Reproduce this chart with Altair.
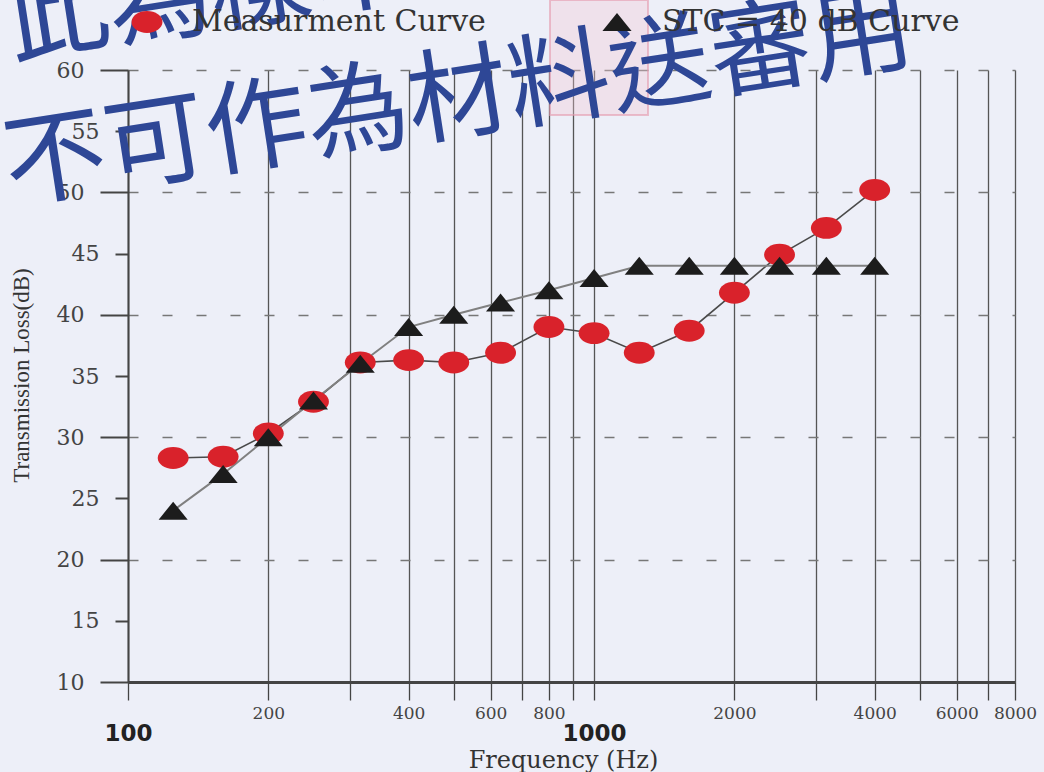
import altair as alt
import pandas as pd

# ---- data ----
freqs = [125, 160, 200, 250, 315, 400, 500, 630, 800, 1000, 1250, 1600, 2000, 2500, 3150, 4000]
measured = [28.3, 28.4, 30.3, 32.9, 36.1, 36.3, 36.1, 36.9, 39.0, 38.5, 36.9, 38.7, 41.8, 44.9, 47.1, 50.2]
stc_curve = [24, 27, 30, 33, 36, 39, 40, 41, 42, 43, 44, 44, 44, 44, 44, 44]
series_names = ["Measurment Curve", "STC = 40 dB Curve"]

x_grid_values = [100, 200, 300, 400, 500, 600, 700, 800, 900,
                 1000, 2000, 3000, 4000, 5000, 6000, 7000, 8000]
x_small_labels = [200, 400, 600, 800, 2000, 4000, 6000, 8000]
x_big_labels = [100, 1000]
y_major = [10, 20, 30, 40, 50, 60]
y_minor = [15, 25, 35, 45, 55]
watermark_lines = ["此為樣本", "不可作為材料送審用"]

df = pd.DataFrame({
    "freq": freqs + freqs,
    "tl": measured + stc_curve,
    "series": [series_names[0]] * len(freqs) + [series_names[1]] * len(freqs),
})

W, H = 887, 612
xscale = alt.Scale(type="log", domain=[100, 8000], nice=False)
yscale = alt.Scale(domain=[10, 60], nice=False, zero=False)

ELLIPSE = "M-1.03,0A1.03,0.73,0,1,1,1.03,0A1.03,0.73,0,1,1,-1.03,0Z"
TRIANGLE = "M-0.97,0.6L0.97,0.6L0,-0.6Z"

# x axis: ticks + vertical grid
ax_grid = alt.Axis(values=x_grid_values, orient="bottom", labels=False, ticks=True,
                   tickSize=18, tickColor="#444", tickWidth=1.3,
                   grid=True, gridColor="#555", gridWidth=1.3,
                   domain=True, domainColor="#444", domainWidth=3, title=None)
# x axis: small serif labels
ax_small = alt.Axis(values=x_small_labels, orient="bottom", ticks=False, tickSize=0,
                    grid=False, domain=False, labelPadding=23,
                    labelFont="DejaVu Serif", labelFontSize=17, labelColor="#444",
                    labelFlush=False, labelOverlap=False, format="d", title=None)
# x axis: big bold labels + title
ax_big = alt.Axis(values=x_big_labels, orient="bottom", ticks=False, tickSize=0,
                  grid=False, domain=False, labelPadding=40,
                  labelFont="DejaVu Sans", labelFontSize=23, labelFontWeight="bold",
                  labelColor="#222", labelFlush=False, labelOverlap=False, format="d",
                  title="Frequency (Hz)", titleFont="DejaVu Serif", titleFontSize=24,
                  titleFontWeight="normal", titleColor="#333",
                  titleX=435, titleY=78, titleBaseline="middle", titleAnchor="start",
                  titleAlign="center")

# y axis: major ticks, dashed grid, labels, title
ay_major = alt.Axis(values=y_major, orient="left", tickSize=28, tickColor="#444", tickWidth=2,
                    grid=True, gridDash=[10, 24], gridColor="#777", gridWidth=1.5,
                    domain=True, domainColor="#444", domainWidth=2,
                    labelFont="DejaVu Serif", labelFontSize=22, labelColor="#444",
                    labelPadding=16, labelFlush=False, labelOverlap=False,
                    title="Transmission Loss(dB)", titleFont="Liberation Serif",
                    titleFontSize=23, titleFontWeight="normal", titleColor="#333",
                    titleX=-107, titleY=305, titleAngle=270, titleBaseline="middle",
                    titleAlign="center", titleAnchor="start")
ay_minor = alt.Axis(values=y_minor, orient="left", tickSize=13, tickColor="#444", tickWidth=2,
                    grid=False, domain=False,
                    labelFont="DejaVu Serif", labelFontSize=22, labelColor="#444",
                    labelPadding=16, labelFlush=False, labelOverlap=False, title=None)

base = alt.Chart(df)

line_meas = base.transform_filter(alt.datum.series == series_names[0]).mark_line(
    color="#4a4a4a", strokeWidth=1.6
).encode(
    x=alt.X("freq:Q", scale=xscale, axis=ax_grid),
    y=alt.Y("tl:Q", scale=yscale, axis=ay_major),
)

line_stc = base.transform_filter(alt.datum.series == series_names[1]).mark_line(
    color="#808080", strokeWidth=2
).encode(
    x=alt.X("freq:Q", scale=xscale, axis=ax_small),
    y=alt.Y("tl:Q", scale=yscale, axis=ay_minor),
)

legend_cfg = dict(title=None, orient="none", legendX=4, legendY=-63,
                  direction="horizontal", symbolSize=900,
                  labelFont="DejaVu Serif", labelFontSize=30,
                  labelColor="#333", labelOffset=30,
                  labelLimit=600, columnPadding=116,
                  symbolStrokeWidth=0, symbolOpacity=1)

points = base.mark_point(filled=True, opacity=1, size=900, strokeWidth=0).encode(
    x=alt.X("freq:Q", scale=xscale, axis=ax_big),
    y=alt.Y("tl:Q", scale=yscale, axis=None),
    color=alt.Color("series:N",
                    scale=alt.Scale(domain=series_names, range=["#d9222b", "#1c1c1c"]),
                    legend=alt.Legend(**legend_cfg)),
    shape=alt.Shape("series:N",
                    scale=alt.Scale(domain=series_names, range=[ELLIPSE, TRIANGLE]),
                    legend=alt.Legend(**legend_cfg)),
)

# faint red stamp and blue watermark overlay
stamp = alt.Chart(pd.DataFrame({"s": ["stamp"]})).mark_rect(
    fill="#f3c9d3", fillOpacity=0.35, stroke="#e59aae", strokeOpacity=0.6, strokeWidth=2
).encode(x=alt.value(422), x2=alt.value(520), y=alt.value(-70), y2=alt.value(45))

wm_df1 = pd.DataFrame({"t": [watermark_lines[0]]})
wm_df2 = pd.DataFrame({"t": [watermark_lines[1]]})
wm_style = dict(font="Noto Sans CJK TC", fontSize=102, color="#2e4796",
                align="left", baseline="middle", angle=351.2)
wm1 = alt.Chart(wm_df1).mark_text(**wm_style).encode(
    text="t:N", x=alt.value(-120), y=alt.value(-44))
wm2 = alt.Chart(wm_df2).mark_text(**wm_style).encode(
    text="t:N", x=alt.value(-123), y=alt.value(100))

chart = alt.layer(line_meas, line_stc, points, stamp, wm1, wm2).resolve_axis(
    x="independent", y="independent"
).properties(
    width=W, height=H,
    padding={"left": 128, "top": 70, "right": 29, "bottom": 90},
    autosize=alt.AutoSizeParams(type="none"),
    background="#edeff8",
).configure_view(strokeWidth=0)

chart.save("out.html", embed_options={"renderer": "svg", "actions": False})
